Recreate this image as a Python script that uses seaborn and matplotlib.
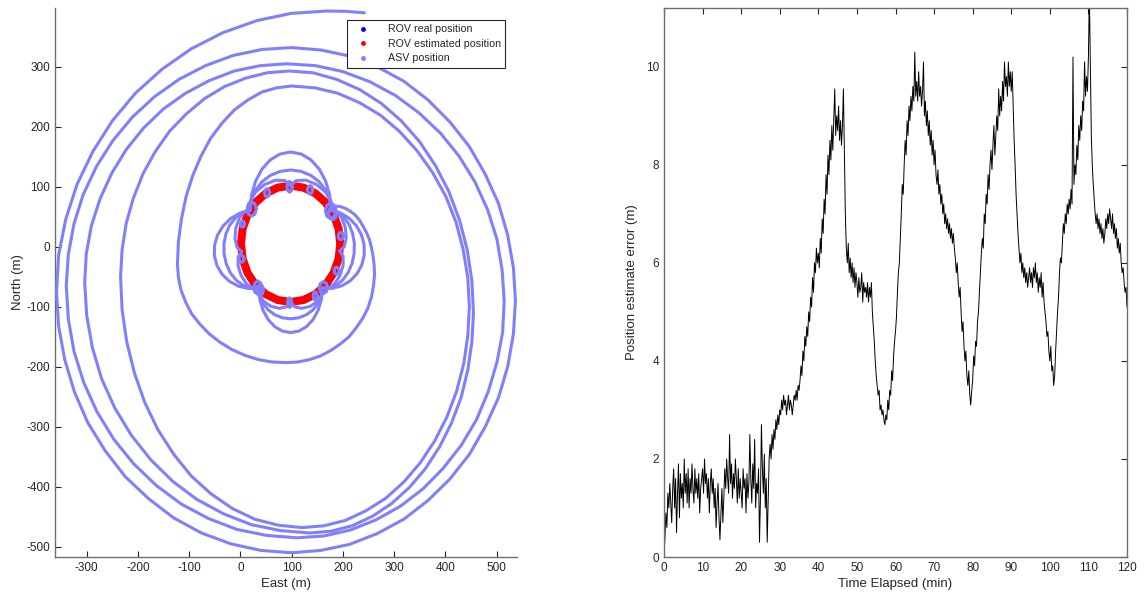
import numpy as np
import pandas as pd
import matplotlib
matplotlib.use("Agg")
import matplotlib.pyplot as plt
import seaborn as sns
from matplotlib.lines import Line2D

# ---------------- Left panel data (East / North, metres) ----------------
# ASV outer spiral path
asv_spiral_east = [
    185, 195, 205, 215, 224, 232, 239, 246, 252, 256, 259, 261, 262,
    260, 256, 249, 239, 226, 212, 195, 176, 156, 135, 112, 90,
    62, 35, 9, -17, -40, -61, -79, -95, -107, -116, -121, -123,
    -121, -115, -106, -93, -77, -58, -36, -12, 15, 42, 71, 100,
    145, 190, 233, 274, 311, 345, 375, 401, 421, 435, 444, 447,
    444, 436, 422, 403, 379, 351, 319, 284, 245, 205, 163, 120,
    74, 28, -16, -57, -96, -130, -161, -187, -207, -222, -231, -234,
    -231, -223, -209, -190, -166, -138, -105, -70, -31, 10, 52, 95,
    142, 188, 233, 275, 314, 350, 381, 407, 428, 443, 452, 455,
    452, 444, 431, 412, 389, 361, 330, 295, 258, 218, 177, 135,
    78, 21, -33, -85, -132, -175, -213, -245, -271, -289, -300, -304,
    -301, -291, -274, -251, -223, -189, -150, -107, -61, -12, 39, 90,
    146, 200, 253, 303, 349, 391, 427, 458, 483, 501, 511, 515,
    512, 501, 484, 461, 431, 396, 357, 313, 265, 215, 163, 110,
    51, -7, -62, -115, -164, -208, -247, -280, -306, -325, -336, -340,
    -336, -325, -307, -281, -249, -211, -168, -120, -68, -14, 43, 100,
    157, 213, 267, 319, 366, 409, 447, 478, 504, 522, 533, 537,
    533, 522, 504, 478, 447, 409, 366, 319, 267, 213, 157, 100,
    40, -19, -76, -130, -179, -225, -264, -298, -324, -343, -355, -359,
    -355, -341, -319, -288, -250, -205, -153, -96, -34, 32, 99, 168,
    205, 242]
asv_spiral_north = [
    68, 67, 64, 59, 53, 45, 35, 24, 12, -2, -16, -30, -45,
    -64, -83, -102, -119, -135, -150, -162, -173, -182, -188, -192, -193,
    -192, -188, -181, -171, -159, -145, -129, -112, -92, -72, -51, -30,
    9, 47, 84, 119, 151, 181, 206, 228, 245, 258, 265, 268,
    265, 256, 240, 219, 192, 160, 124, 84, 41, -5, -52, -100,
    -148, -195, -241, -284, -324, -360, -392, -419, -440, -456, -465, -468,
    -464, -454, -436, -412, -382, -346, -305, -259, -210, -158, -105, -50,
    -5, 39, 81, 122, 159, 193, 222, 247, 267, 281, 290, 293,
    290, 279, 262, 239, 210, 175, 135, 92, 44, -6, -57, -110,
    -158, -205, -251, -294, -333, -370, -401, -428, -449, -465, -474, -477,
    -473, -463, -445, -421, -391, -355, -314, -269, -220, -168, -115, -60,
    -12, 35, 80, 123, 162, 198, 230, 256, 277, 293, 302, 305,
    302, 292, 275, 252, 223, 189, 151, 108, 61, 12, -39, -90,
    -142, -192, -241, -288, -331, -369, -403, -432, -455, -472, -482, -485,
    -481, -471, -453, -429, -398, -362, -321, -275, -226, -174, -120, -65,
    -13, 38, 87, 134, 177, 216, 250, 279, 302, 319, 329, 332,
    328, 318, 300, 276, 245, 208, 167, 121, 72, 19, -35, -90,
    -145, -199, -251, -300, -346, -387, -423, -454, -478, -496, -506, -510,
    -506, -495, -477, -452, -420, -383, -340, -293, -242, -188, -132, -75,
    -14, 46, 104, 159, 210, 256, 296, 330, 357, 377, 389, 393,
    392.5, 390]

# ASV petals around the ROV track
asv_petal_east = [
    [19, 21.7, 29.6, 42.1, 58.5, 77.5, 98, 118.5, 137.5, 153.9, 166.4, 174.3, 177],
    [19, 21.7, 29.6, 42.1, 58.5, 77.5, 98, 118.5, 137.5, 153.9, 166.4, 174.3, 177],
    [19, 18.5, 28.8, 47, 68.3, 87, 98],
    [98, 109, 127.7, 149, 167.2, 177.5, 177],
    [177, 195.7, 212.5, 226.3, 236.2, 241.5, 241.8, 237.1, 227.7, 214.3, 197.7, 179.3, 160],
    [177, 190.6, 202.6, 212.3, 219, 222.4, 222, 218, 210.5, 200.3, 187.8, 174.2, 160],
    [177, 187.8, 198, 204.9, 206.5, 202.6, 194],
    [194, 200.5, 200.7, 194.5, 183.7, 171.1, 160],
    [160, 157.9, 151.7, 141.8, 129, 114.1, 98, 81.9, 67, 54.2, 44.3, 38.1, 36],
    [160, 157.9, 151.7, 141.8, 129, 114.1, 98, 81.9, 67, 54.2, 44.3, 38.1, 36],
    [160, 159.3, 150.6, 136, 119.6, 105.7, 98],
    [98, 90.3, 76.4, 60, 45.4, 36.7, 36],
    [36, 15.4, -4.3, -21.9, -36.1, -46, -50.9, -50.4, -44.6, -33.9, -19.1, -1, 19],
    [36, 20.3, 5.2, -8.5, -19.7, -27.7, -31.9, -32.1, -28.2, -20.5, -9.6, 3.9, 19],
    [36, 25, 12.4, 1.6, -4.6, -4.4, 2],
    [2, -6.6, -10.6, -8.9, -2, 8.2, 19],
]
asv_petal_north = [
    [61, 86.1, 109.5, 129.6, 145, 154.7, 158, 154.7, 145, 129.6, 109.5, 86.1, 61],
    [61, 78.4, 94.5, 108.4, 119, 125.7, 128, 125.7, 119, 108.4, 94.5, 78.4, 61],
    [61, 74.9, 90.5, 103.7, 111, 110.4, 102],
    [102, 110.4, 111, 103.7, 90.5, 74.9, 61],
    [61, 56.3, 47.5, 35.2, 20.2, 3.5, -13.6, -30.1, -44.8, -56.8, -65.1, -69.3, -69],
    [61, 57, 48.8, 37.1, 22.4, 6, -11, -27.6, -42.6, -54.9, -63.8, -68.6, -69],
    [61, 58.9, 48.2, 31.9, 14.2, 0, -7],
    [-7, -16, -30.8, -47.6, -61.8, -69.6, -69],
    [-69, -88.2, -106, -121.3, -133.1, -140.5, -143, -140.5, -133.1, -121.3, -106, -88.2, -69],
    [-69, -82.2, -94.5, -105.1, -113.2, -118.3, -120, -118.3, -113.2, -105.1, -94.5, -82.2, -69],
    [-69, -79.9, -91, -99.3, -102.6, -99.9, -92],
    [-92, -99.9, -102.6, -99.3, -91, -79.9, -69],
    [-69, -69.5, -65.5, -57.3, -45.4, -30.7, -14.3, 2.9, 19.6, 34.7, 47.2, 56.1, 61],
    [-69, -68.8, -64.2, -55.5, -43.3, -28.3, -11.8, 5.3, 21.8, 36.5, 48.4, 56.8, 61],
    [-69, -69.8, -62.2, -48.2, -31.7, -17, -8],
    [-8, -1, 13.5, 31.3, 47.9, 58.8, 61],
]

# ASV small loops on the ROV track
asv_loop_east = [
    [31, 28.4, 22, 15.6, 13, 15.6, 22, 28.4, 31],
    [186, 183.1, 176, 168.9, 166, 168.9, 176, 183.1, 186],
    [188, 185.7, 180, 174.3, 172, 174.3, 180, 185.7, 188],
    [170, 167.7, 162, 156.3, 154, 156.3, 162, 167.7, 170],
    [42, 39.7, 34, 28.3, 26, 28.3, 34, 39.7, 42],
    [45, 43, 38, 33, 31, 33, 38, 43, 45],
    [101, 99.6, 96, 92.4, 91, 92.4, 96, 99.6, 101],
    [141, 139.6, 136, 132.4, 131, 132.4, 136, 139.6, 141],
    [57, 55.6, 52, 48.4, 47, 48.4, 52, 55.6, 57],
    [201, 199.6, 196, 192.4, 191, 192.4, 196, 199.6, 201],
    [193, 191.6, 188, 184.4, 183, 184.4, 188, 191.6, 193],
    [100, 98.8, 96, 93.2, 92, 93.2, 96, 98.8, 100],
    [150, 148.8, 146, 143.2, 142, 143.2, 146, 148.8, 150],
    [7, 5.6, 2, -1.6, -3, -1.6, 2, 5.6, 7],
    [8, 6.8, 4, 1.2, 0, 1.2, 4, 6.8, 8],
]
asv_loop_north = [
    [63, 71.5, 75, 71.5, 63, 54.5, 51, 54.5, 63],
    [60, 69.2, 73, 69.2, 60, 50.8, 47, 50.8, 60],
    [56, 63.8, 67, 63.8, 56, 48.2, 45, 48.2, 56],
    [-68, -60.9, -58, -60.9, -68, -75.1, -78, -75.1, -68],
    [-68, -60.2, -57, -60.2, -68, -75.8, -79, -75.8, -68],
    [-72, -65.6, -63, -65.6, -72, -78.4, -81, -78.4, -72],
    [100, 106.4, 109, 106.4, 100, 93.6, 91, 93.6, 100],
    [95, 100, 102, 100, 95, 90, 88, 90, 95],
    [90, 95, 97, 95, 90, 85, 83, 85, 90],
    [18, 22.3, 24, 22.3, 18, 13.7, 12, 13.7, 18],
    [-40, -35.7, -34, -35.7, -40, -44.3, -46, -44.3, -40],
    [-93, -87.3, -85, -87.3, -93, -98.7, -101, -98.7, -93],
    [-82, -77, -75, -77, -82, -87, -89, -87, -82],
    [-20, -15.7, -14, -15.7, -20, -24.3, -26, -24.3, -20],
    [38, 41.6, 43, 41.6, 38, 34.4, 33, 34.4, 38],
]

# ROV track (real and estimated)
rov_real_east = [194, 190.7, 181, 165.9, 146, 122.8, 98, 73.2, 50, 30.1, 15, 5.3, 2,
                 5.3, 15, 30.1, 50, 73.2, 98, 122.8, 146, 165.9, 181, 190.7, 194]
rov_real_north = [5, 29.8, 53, 72.9, 88.1, 97.7, 101, 97.7, 88.1, 72.9, 53, 29.8, 5,
                  -19.8, -43, -62.9, -78.1, -87.7, -91, -87.7, -78.1, -62.9, -43, -19.8, 5]
rov_est_east = [195, 191.7, 182, 166.6, 146.5, 123.1, 98, 72.9, 49.5, 29.4, 14, 4.3, 1,
                4.3, 14, 29.4, 49.5, 72.9, 98, 123.1, 146.5, 166.6, 182, 191.7, 195]
rov_est_north = [5, 30.1, 53.5, 73.6, 89, 98.7, 102, 98.7, 89, 73.6, 53.5, 30.1, 5,
                 -20.1, -43.5, -63.6, -79, -88.7, -92, -88.7, -79, -63.6, -43.5, -20.1, 5]

legend_labels = ["ROV real position", "ROV estimated position", "ASV position"]

# ---------------- Right panel data ----------------
error_m = [
    0.0, 0.4, 0.9, 0.6, 1.3, 1.0, 1.5, 1.1, 0.7, 1.4, 1.8, 1.0, 1.6, 0.5, 1.3, 1.9, 0.8, 1.7, 1.2, 1.5,
    1.0, 2.0, 1.3, 1.7, 1.1, 1.8, 1.0, 1.6, 1.3, 1.9, 1.4, 1.1, 1.8, 1.3, 1.6, 1.2, 1.7, 0.9, 1.4, 1.6,
    1.8, 1.3, 2.0, 1.5, 1.7, 1.2, 1.6, 0.9, 1.5, 1.8, 1.3, 1.6, 1.0, 1.4, 0.6, 1.1, 1.5, 0.8, 0.35, 0.9,
    1.4, 0.7, 1.2, 1.8, 1.4, 2.0, 1.6, 1.3, 2.5, 1.5, 1.9, 1.2, 1.7, 1.4, 2.0, 1.6, 1.1, 1.8, 1.2, 1.6,
    1.3, 1.0, 1.8, 1.4, 1.6, 0.9, 1.7, 1.2, 1.5, 2.5, 1.6, 1.1, 1.9, 1.4, 2.4, 1.0, 1.5, 1.3, 1.8, 0.3,
    1.2, 2.7, 1.8, 1.3, 2.1, 1.0, 1.6, 0.3, 1.2, 2.0, 2.3, 2.0, 2.5, 2.2, 2.6, 2.4, 2.8, 2.6, 2.9, 2.7,
    3.0, 2.9, 3.2, 3.0, 3.3, 3.1, 3.2, 2.9, 3.1, 3.3, 3.0, 3.2, 3.1, 2.9, 3.1, 3.3, 3.2, 3.4, 3.2, 3.5,
    3.4, 3.6, 3.9, 3.7, 4.2, 4.0, 4.5, 4.3, 4.7, 4.5, 5.0, 4.8, 5.3, 5.1, 5.7, 5.4, 6.0, 5.8, 6.3, 6.0,
    6.2, 5.9, 6.5, 6.2, 6.9, 6.6, 7.3, 7.0, 7.8, 7.4, 8.2, 7.8, 8.5, 8.1, 8.8, 8.3, 8.9, 9.55, 8.6, 9.0,
    8.7, 9.2, 8.5, 8.9, 8.4, 8.8, 9.55, 8.2, 7.0, 6.3, 6.0, 6.4, 5.8, 6.1, 5.7, 6.0, 5.6, 5.9, 5.5, 5.8,
    5.6, 5.3, 5.7, 5.4, 5.5, 5.8, 5.2, 5.6, 5.4, 5.5, 5.3, 5.6, 5.2, 5.5, 5.3, 5.6, 5.0, 4.7, 4.4, 4.0,
    3.7, 3.5, 3.3, 3.4, 3.0, 3.1, 2.9, 3.0, 2.8, 2.7, 2.9, 2.8, 3.2, 3.0, 3.4, 3.3, 3.8, 3.6, 4.1, 4.4,
    4.6, 4.9, 5.4, 5.8, 6.0, 6.5, 7.0, 7.6, 7.4, 8.0, 8.5, 8.2, 8.9, 8.6, 9.2, 8.9, 9.4, 9.1, 9.6, 9.3,
    10.3, 9.4, 9.7, 9.3, 9.9, 9.4, 9.6, 9.2, 9.5, 10.1, 9.0, 9.3, 8.8, 9.1, 8.6, 8.9, 8.4, 8.7, 8.2, 8.5,
    8.0, 8.3, 7.8, 7.6, 7.9, 7.4, 7.6, 7.2, 7.4, 7.0, 7.2, 6.8, 7.0, 6.7, 6.9, 6.6, 6.8, 6.5, 6.7, 6.4,
    6.6, 6.3, 6.1, 5.8, 6.0, 5.6, 5.3, 5.5, 5.0, 4.6, 4.8, 4.3, 4.0, 4.2, 3.7, 3.5, 3.8, 3.3, 3.1, 3.4,
    3.6, 4.1, 3.9, 4.4, 4.3, 4.8, 5.0, 5.4, 5.8, 6.2, 6.5, 6.3, 7.0, 6.8, 7.4, 7.2, 7.8, 7.5, 8.0, 8.3,
    7.9, 8.4, 8.8, 8.2, 8.6, 9.0, 8.7, 9.55, 9.0, 9.4, 9.1, 9.7, 9.3, 10.1, 9.6, 9.8, 9.4, 10.1, 9.6, 9.9,
    9.5, 9.9, 9.2, 8.5, 8.0, 7.4, 7.0, 6.6, 6.3, 6.0, 6.2, 5.8, 6.0, 5.7, 5.9, 5.6, 5.8, 5.5, 5.7, 5.9,
    5.6, 5.8, 5.5, 5.9, 5.7, 6.0, 5.6, 5.8, 5.4, 5.7, 5.5, 5.8, 5.3, 5.6, 5.2, 5.0, 4.8, 4.5, 4.6, 4.2,
    4.0, 4.3, 3.8, 3.9, 3.5, 3.7, 4.2, 4.6, 5.0, 5.3, 5.8, 6.1, 6.0, 6.4, 6.8, 6.6, 7.0, 6.8, 7.2, 7.0,
    7.3, 7.1, 7.5, 7.2, 10.2, 7.6, 8.0, 7.8, 8.4, 8.1, 8.8, 8.5, 9.0, 8.7, 9.3, 9.1, 10.1, 9.4, 9.8, 9.5,
    10.2, 11.5, 10.0, 8.6, 8.0, 7.6, 7.3, 7.0, 6.8, 7.0, 6.7, 6.9, 6.6, 6.8, 6.5, 6.7, 6.4, 6.6, 6.9, 6.7,
    7.0, 6.8, 7.1, 6.9, 6.7, 7.0, 6.6, 6.8, 6.5, 6.7, 6.3, 6.5, 6.2, 6.4, 6.0, 5.8, 5.9, 5.6, 5.4, 5.5,
    5.1,
]
time_min = np.linspace(0, 120, len(error_m))

east_ticks = [-300, -200, -100, 0, 100, 200, 300, 400, 500]
north_ticks = [-500, -400, -300, -200, -100, 0, 100, 200, 300]
time_ticks = list(range(0, 121, 10))
err_ticks = [0, 2, 4, 6, 8, 10]

# ---------------- Build tables ----------------
segs = [(asv_spiral_east, asv_spiral_north)] + list(zip(asv_petal_east, asv_petal_north)) \
       + list(zip(asv_loop_east, asv_loop_north))
rows = []
for i, (ex, ny) in enumerate(segs):
    for a, b in zip(ex, ny):
        rows.append((i, a, b))
asv_df = pd.DataFrame(rows, columns=["seg", "east", "north"])
rov_real_df = pd.DataFrame({"east": rov_real_east, "north": rov_real_north})
rov_est_df = pd.DataFrame({"east": rov_est_east, "north": rov_est_north})
err_df = pd.DataFrame({"t": time_min, "err": error_m})

# ---------------- Style ----------------
sns.set_theme(style="white")
plt.rcParams['font.family'] = ['Liberation Sans', 'DejaVu Sans']
plt.rcParams['axes.unicode_minus'] = False

TXT = '#262626'
SPINE = '#6e6e6e'

fig = plt.figure(figsize=(11.44, 6.0), dpi=100)
ax1 = fig.add_axes([55 / 1144, 1 - 557 / 600, 462 / 1144, 549 / 600])
ax2 = fig.add_axes([664 / 1144, 1 - 557 / 600, 463 / 1144, 549 / 600])

# Left panel
sns.scatterplot(data=rov_real_df, x="east", y="north", color="#0000FF", s=8,
                linewidth=0, ax=ax1, legend=False, zorder=2)
sns.lineplot(data=rov_est_df, x="east", y="north", sort=False, estimator=None,
             color="#FF0000", lw=5.8, ax=ax1, legend=False, zorder=3)
sns.lineplot(data=asv_df, x="east", y="north", units="seg", estimator=None, sort=False,
             color="#8080FF", lw=2.2, ax=ax1, legend=False, zorder=4,
             solid_joinstyle='round', solid_capstyle='round')

ax1.set_xlim(-362, 540)
ax1.set_ylim(-517, 398)
ax1.set_xticks(east_ticks)
ax1.set_yticks(north_ticks)
ax1.set_xlabel("East (m)", fontsize=9.5, color=TXT, labelpad=3)
ax1.set_ylabel("North (m)", fontsize=9.5, color=TXT, labelpad=2)
for s in ["top", "right"]:
    ax1.spines[s].set_visible(False)
for s in ["left", "bottom"]:
    ax1.spines[s].set_color(SPINE)
    ax1.spines[s].set_linewidth(1.0)

handles = [Line2D([], [], ls='none', marker='.', color='#0000FF', markersize=5),
           Line2D([], [], ls='none', marker='.', color='#FF0000', markersize=5),
           Line2D([], [], ls='none', marker='.', color='#8080FF', markersize=5)]
leg = ax1.legend(handles, legend_labels, loc='upper left', bbox_to_anchor=(0.632, 0.978),
                 frameon=True, fancybox=False, edgecolor='#262626', framealpha=1,
                 fontsize=7.7, handlelength=2.2, handletextpad=1.2, borderpad=0.4,
                 labelspacing=0.42, borderaxespad=0)
leg.get_frame().set_linewidth(0.8)
for t in leg.get_texts():
    t.set_color(TXT)

# Right panel
sns.lineplot(data=err_df, x="t", y="err", color="black", lw=0.7, ax=ax2,
             estimator=None, sort=False, legend=False)
ax2.set_xlim(0, 120)
ax2.set_ylim(0, 11.2)
ax2.set_xticks(time_ticks)
ax2.set_yticks(err_ticks)
ax2.set_xlabel("Time Elapsed (min)", fontsize=9.5, color=TXT, labelpad=3)
ax2.set_ylabel("Position estimate error (m)", fontsize=9.5, color=TXT, labelpad=6)
for s in ax2.spines.values():
    s.set_color(SPINE)
    s.set_linewidth(1.0)

for ax in (ax1, ax2):
    ax.tick_params(direction='in', length=4, width=0.8, colors=TXT, labelsize=8.5,
                   labelcolor=TXT)
ax2.tick_params(top=True, right=True, labeltop=False, labelright=False)
ax1.tick_params(top=False, right=False, left=True, bottom=True)

fig.savefig("out.png", dpi=100)
